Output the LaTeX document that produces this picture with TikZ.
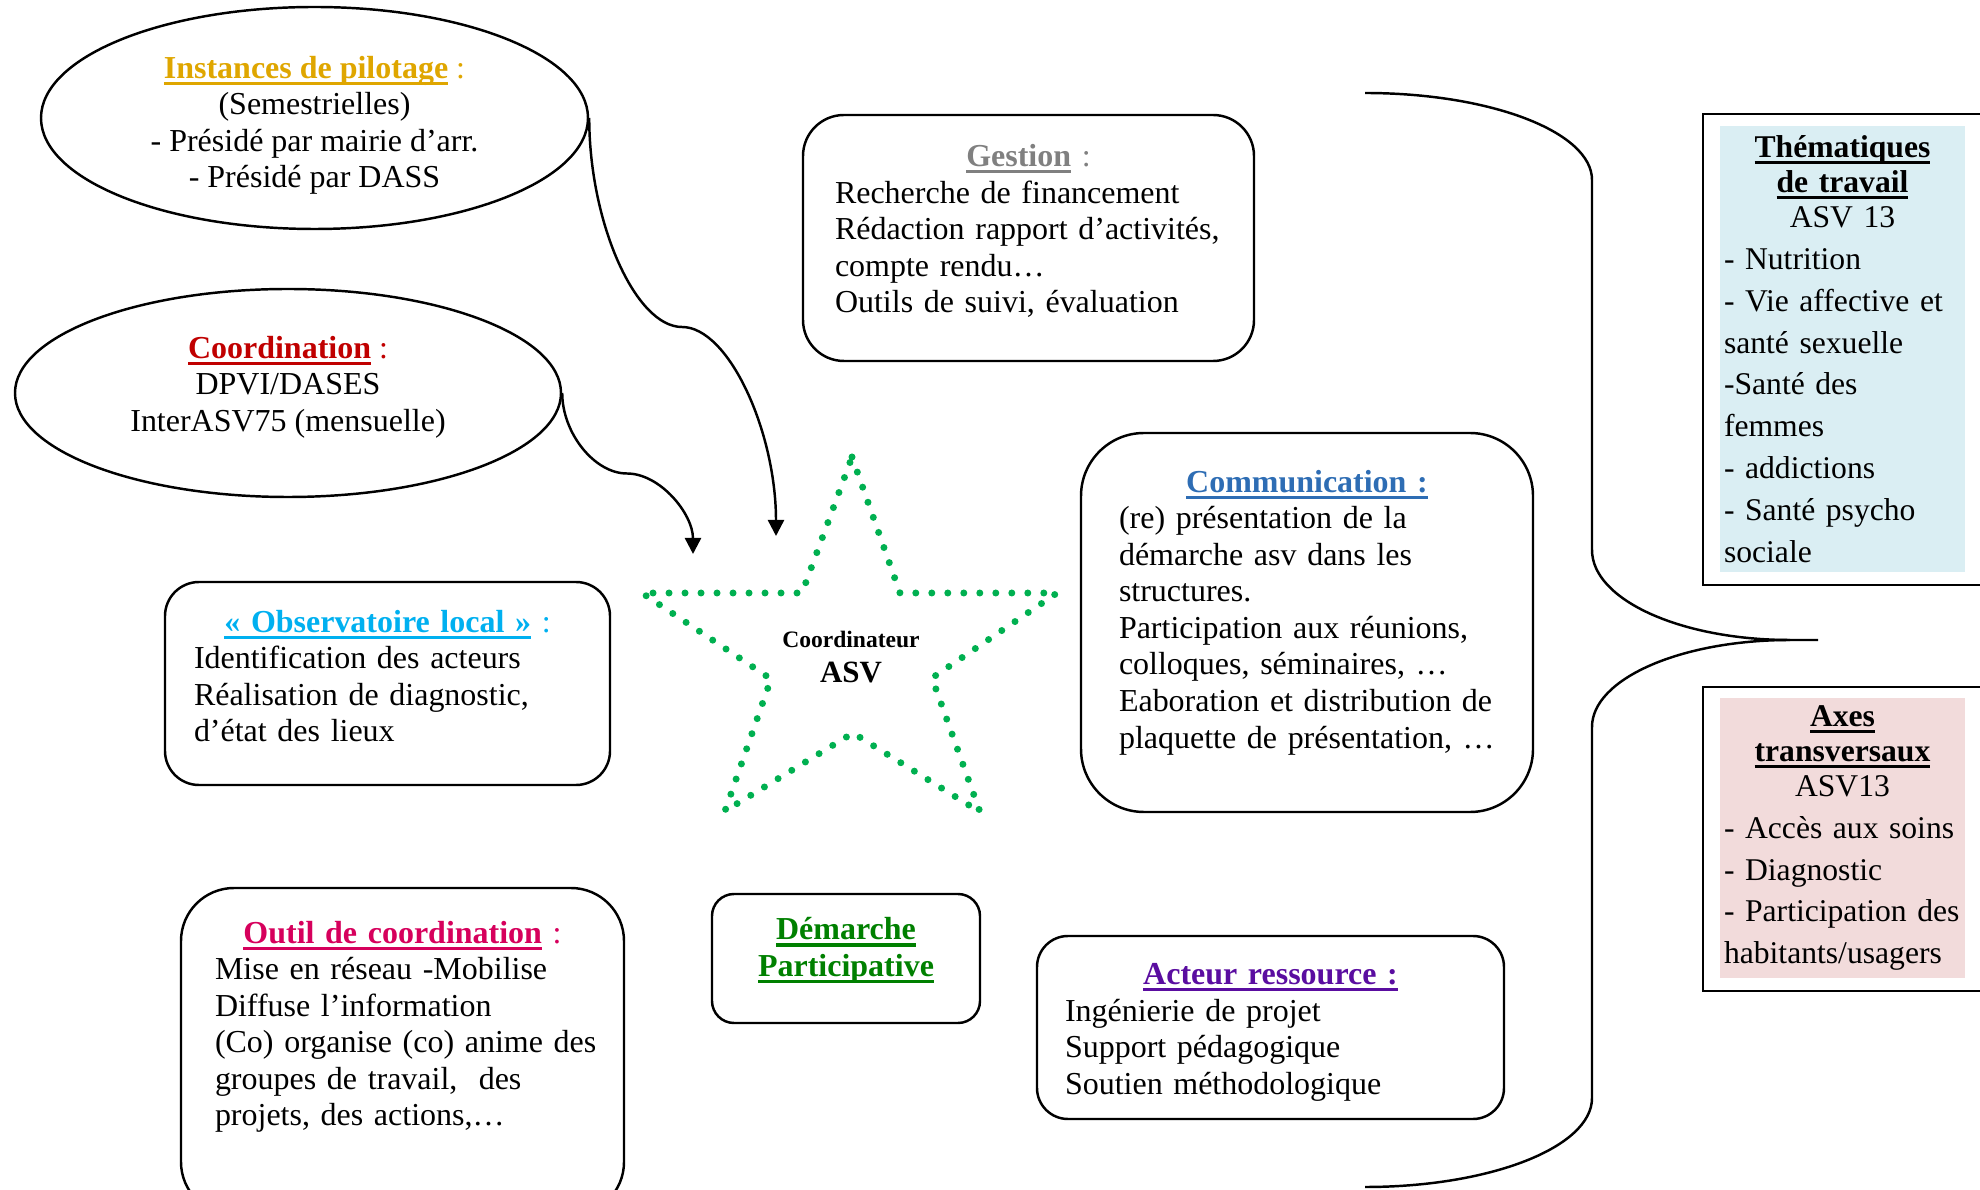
\documentclass[tikz,border=0pt]{standalone}
\usepackage{fontspec}
\setmainfont{Liberation Serif}
\usepackage{tikz}
\usetikzlibrary{shapes.geometric,arrows.meta,positioning,calc}
\usepackage{xcolor}

\definecolor{pilotGold}{HTML}{DFA600}
\definecolor{coordRed}{HTML}{C00000}
\definecolor{gestGray}{HTML}{808080}
\definecolor{obsCyan}{HTML}{00B0F0}
\definecolor{comBlue}{HTML}{2E6DB4}
\definecolor{outilPink}{HTML}{D6005C}
\definecolor{demGreen}{HTML}{008000}
\definecolor{acteurPurple}{HTML}{5A0DA0}
\definecolor{starGreen}{HTML}{00B050}
\definecolor{themBlue}{HTML}{DAEEF3}
\definecolor{axesPink}{HTML}{F2DBDB}

\newsavebox\ulbox
\newcommand{\uword}[1]{\leavevmode\sbox\ulbox{#1}\rlap{\rule[-1.9pt]{\wd\ulbox}{0.9pt}}\usebox\ulbox}

\begin{document}
\begin{tikzpicture}[
    bloc/.style={draw, rounded corners=#1, line width=0.7pt, inner ysep=0pt, align=left, font=\fontsize{9.1}{10.4}\selectfont},
    bulle/.style={draw, ellipse, line width=0.7pt, inner sep=0pt, align=center, font=\fontsize{9.1}{10.4}\selectfont},
    lien/.style={-{Triangle[length=1.6mm,width=1.6mm]}, line width=0.7pt},
    cadre/.style={draw, rectangle, line width=0.7pt, minimum width=2.92cm},
    fond/.style={rectangle, inner xsep=0.04cm, inner ysep=0pt, minimum width=2.45cm, text width=2.37cm, align=left, font=\fontsize{9}{11.9}\selectfont},
    etoile/.style={draw=starGreen, line width=0.07cm, line cap=round, dash pattern=on 0pt off 0.16cm}
  ]

  \useasboundingbox (0,0) rectangle (19.8,-11.9);
  \clip (0,0) rectangle (19.8,-11.9);

  % bulles de gauche
  \node[bulle, minimum width=5.47cm, minimum height=2.22cm] (pilot) at (3.145,-1.18)
    {\rule{0pt}{0.37cm}\textcolor{pilotGold}{\uword{\bfseries Instances de pilotage} :}\\(Semestrielles)\\- Présidé par mairie d’arr.\\- Présidé par DASS};
  \node[bulle, minimum width=5.46cm, minimum height=2.08cm] (coordi) at (2.88,-3.93)
    {\textcolor{coordRed}{\uword{\bfseries Coordination} :}\\DPVI/DASES\\InterASV75 (mensuelle)\rule[-0.19cm]{0pt}{0pt}};

  % blocs arrondis
  \node[bloc=0.41cm, minimum width=4.51cm, minimum height=2.46cm, inner xsep=0.22cm, text width=4.07cm] (gestion) at (10.285,-2.38)
    {{\centering\textcolor{gestGray}{\uword{\bfseries Gestion} :}\par}
     \leftskip=1mm Recherche de financement\\
     Rédaction rapport d’activités,\\
     compte rendu…\\
     Outils de suivi, évaluation\rule[-0.19cm]{0pt}{0pt}\par};

  \node[bloc=0.34cm, minimum width=4.45cm, minimum height=2.03cm, inner xsep=0.19cm, text width=4.07cm] (observ) at (3.875,-6.835)
    {{\centering\textcolor{obsCyan}{\uword{\bfseries «~Observatoire local~»} :}\par}
     \leftskip=1mm Identification des acteurs\\
     Réalisation de diagnostic,\\
     d’état des lieux\rule[-0.15cm]{0pt}{0pt}\par};

  \node[bloc=0.63cm, minimum width=4.52cm, minimum height=3.79cm, inner xsep=0.28cm, text width=3.96cm] (commu) at (13.07,-6.225)
    {{\centering\textcolor{comBlue}{\uword{\bfseries Communication :}}\par}
     \leftskip=1mm (re) présentation de la\\
     démarche asv dans les\\
     structures.\\
     Participation aux réunions,\\
     colloques, séminaires, …\\
     Eaboration et distribution de\\
     plaquette de présentation, …\rule[-0.27cm]{0pt}{0pt}\par};

  \node[bloc=0.53cm, minimum width=4.43cm, minimum height=3.27cm, inner xsep=0.24cm, text width=3.95cm] (outil) at (4.025,-10.515)
    {{\centering\textcolor{outilPink}{\uword{\bfseries Outil de coordination} :}\par}
     \leftskip=1mm Mise en réseau -Mobilise\\
     Diffuse l’information\\
     (Co) organise (co) anime des\\
     groupes de travail,\ \ des\\
     projets, des actions,…\rule[-0.56cm]{0pt}{0pt}\par};

  \node[bloc=0.22cm, minimum width=2.68cm, minimum height=1.29cm, inner xsep=0.1cm, text width=2.48cm, align=center, text=demGreen] (demarche) at (8.46,-9.585)
    {\bfseries\uword{Démarche}\\\uword{Participative}\rule[-0.23cm]{0pt}{0pt}};

  \node[bloc=0.31cm, minimum width=4.67cm, minimum height=1.83cm, inner xsep=0.18cm, text width=4.31cm] (acteur) at (12.705,-10.275)
    {{\centering\rule{0pt}{0.31cm}\textcolor{acteurPurple}{\uword{\bfseries Acteur ressource :}}\par}
     \leftskip=1mm Ingénierie de projet\\
     Support pédagogique\\
     Soutien méthodologique\par};

  % etoile centrale
  \draw[etoile] (8.52,-4.57) -- (9.00,-5.93) -- (10.57,-5.93) -- (9.32,-6.78) -- (9.80,-8.12)
    -- (8.53,-7.33) -- (7.25,-8.11) -- (7.71,-6.79) -- (6.42,-5.93) -- (8.02,-5.93) -- cycle;
  \node[font=\fontsize{8.8}{10.2}\selectfont\bfseries, align=center] (coordo) at (8.51,-6.57)
    {{\fontsize{6.7}{8}\selectfont Coordinateur}\\ASV};

  % fleches courbes
  \coordinate (pilotMid) at (6.82,-3.27);
  \coordinate (pilotTip) at (7.76,-5.36);
  \coordinate (coordiMid) at (6.27,-4.735);
  \coordinate (coordiTip) at (6.93,-5.54);
  \draw[lien] (pilot.east) to[out=-90, in=180, out looseness=1.17, in looseness=0.52] (pilotMid)
    to[out=0, in=90, out looseness=0.52, in looseness=1.17] (pilotTip);
  \draw[lien] (coordi.east) to[out=-90, in=180, out looseness=0.99, in looseness=0.81] (coordiMid)
    to[out=0, in=90, out looseness=0.81, in looseness=0.99] (coordiTip);

  % accolade
  \draw[line width=0.7pt] (13.65,-0.93) arc[start angle=90, end angle=0, x radius=2.27cm, y radius=0.87cm]
    -- (15.92,-5.50) arc[start angle=180, end angle=270, x radius=1.98cm, y radius=0.90cm] -- (18.18,-6.40);
  \draw[line width=0.7pt] (17.90,-6.40) arc[start angle=90, end angle=180, x radius=1.98cm, y radius=0.87cm]
    -- (15.92,-10.98) arc[start angle=0, end angle=-90, x radius=2.27cm, y radius=0.89cm];

  % cadres de droite
  \node[cadre, minimum height=4.71cm] (themCadre) at (18.49,-3.495) {};
  \node[fond, fill=themBlue, minimum height=4.46cm] (themes) at (18.425,-3.49)
    {{\centering\uword{\bfseries Thématiques}\\[-1.9pt]\uword{\bfseries de travail}\\[-1.9pt]ASV 13\par}
     - Nutrition\\
     - Vie affective et\\
     santé sexuelle\\
     -Santé des\\
     femmes\\
     - addictions\\
     - Santé psycho\\
     sociale};

  \node[cadre, minimum height=3.04cm] (axesCadre) at (18.49,-8.39) {};
  \node[fond, fill=axesPink, minimum height=2.80cm] (axes) at (18.425,-8.38)
    {{\centering\uword{\bfseries Axes}\\[-1.9pt]\uword{\bfseries transversaux}\\[-1.9pt]ASV13\par}
     - Accès aux soins\\
     - Diagnostic\\
     - Participation des\\
     habitants/usagers};

\end{tikzpicture}
\end{document}
